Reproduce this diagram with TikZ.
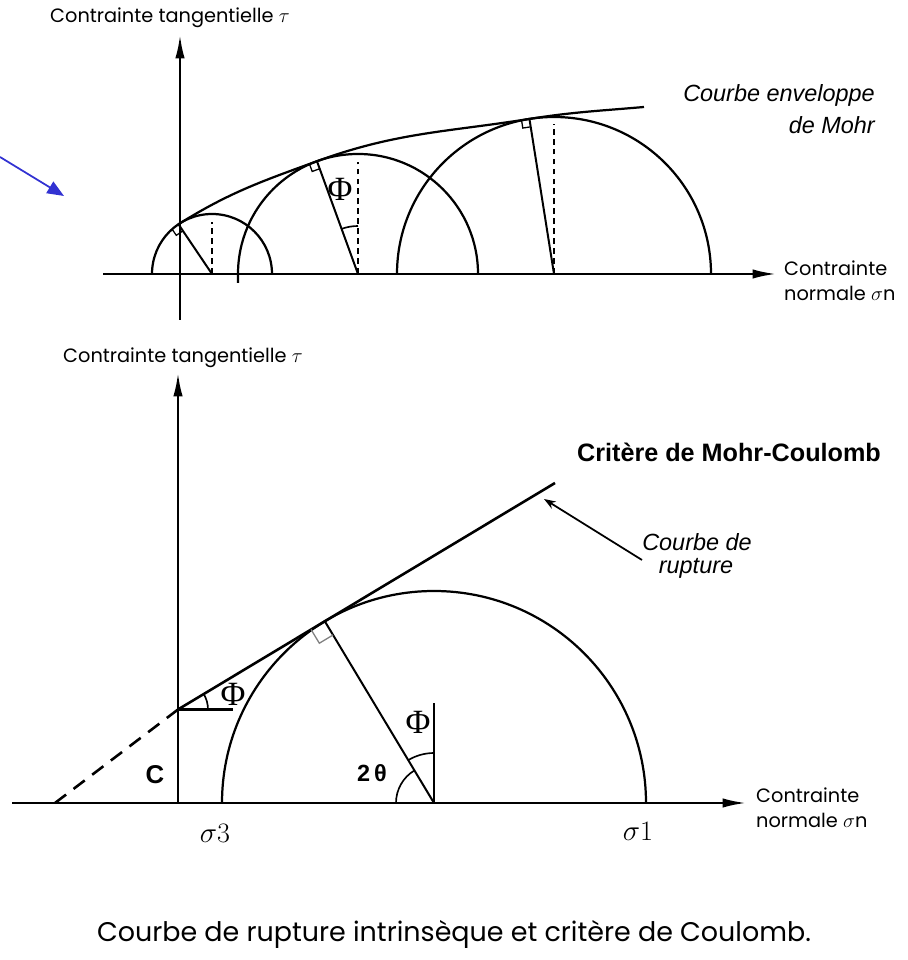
\documentclass[tikz,border=0pt]{standalone}
\usepackage{fontspec}
\newfontfamily\geo{Poppins}
\newfontfamily\hel{Liberation Sans}
\newfontfamily\ser{Liberation Serif}
\usetikzlibrary{arrows.meta,calc}
\definecolor{bluearrow}{RGB}{50,50,210}
\begin{document}
\begin{tikzpicture}[x=0.03cm,y=0.03cm,
  ax/.style={line width=1.9pt,-{Latex[length=7mm,width=2.8mm]}},
  curve/.style={line width=1.9pt},
  thickline/.style={line width=2.2pt},
  rad/.style={line width=1.7pt},
  dotv/.style={line width=2.3pt,dash pattern=on 5pt off 3.5pt},
  ra/.style={line width=1.1pt},
  anglearc/.style={line width=1.4pt},
  lab/.style={font=\geo\fontsize{16.5}{19}\selectfont,inner sep=0pt},
  ital/.style={font=\hel\itshape\fontsize{20}{24}\selectfont,inner sep=0pt},
  boldt/.style={font=\hel\bfseries\fontsize{21.5}{26}\selectfont,inner sep=0pt},
  phil/.style={font=\ser\fontsize{29}{32}\selectfont,inner sep=0pt},
  sig/.style={font=\fontsize{24}{28}\selectfont,inner sep=0pt},
  captxt/.style={font=\geo\fontsize{23}{27}\selectfont,inner sep=0pt}
]
\useasboundingbox (0,0) rectangle (908,960);

% ===== top diagram =====
\coordinate (o1) at (103,686);
\coordinate (x1) at (776,686);
\coordinate (yb1) at (180,640);
\coordinate (yt1) at (180,925);
\draw[ax] (o1) -- (x1);
\draw[ax] (yb1) -- (yt1);
\node[lab,anchor=west] (ylab1) at (50,942) {Contrainte tangentielle $\tau$};
\node[lab,anchor=west] (xlab1a) at (784,692) {Contrainte};
\node[lab,anchor=west] (xlab1b) at (784,667) {normale $\sigma$n};

\coordinate (c1) at (212,686);
\coordinate (c2) at (358,686);
\coordinate (c3) at (554,686);
\draw[curve] ($(c1)+(60,0)$) arc[start angle=0,end angle=180,radius=60];
\draw[curve] ($(c2)+(120,0)$) arc[start angle=0,end angle=180,radius=120] -- ++(0,-9);
\draw[curve] ($(c3)+(157,0)$) arc[start angle=0,end angle=180,radius=157];

\coordinate (t1) at ($(c1)+(124:60)$);
\coordinate (t2) at ($(c2)+(110:120)$);
\coordinate (t3) at ($(c3)+(99:157)$);
\coordinate (e1) at (644,853);
\draw[curve] (t1) to[out=32,in=200] (t2) to[out=20,in=189] (t3) to[out=9,in=185] (e1);

\draw[rad] (t1) -- (c1);
\draw[rad] (t2) -- (c2);
\draw[rad] (t3) -- (c3);
\draw[dotv] (c1) -- ++(0,52);
\draw[dotv] (c2) -- ++(0,112);
\draw[dotv] (c3) -- ++(0,150);

\draw[ra] ($(t1)+(-56:8)$) -- ++(214:8) -- ++(124:8);
\draw[ra] ($(t2)+(-70:8)$) -- ++(200:8) -- ++(110:8);
\draw[ra] ($(t3)+(-81:8)$) -- ++(189:8) -- ++(99:8);
\draw[anglearc] ($(c2)+(90:48)$) arc[start angle=90,end angle=110,radius=48];
\node[phil] (phitop) at (340,771) {Φ};

\node[ital,anchor=east] (env1) at (875,865) {Courbe enveloppe};
\node[ital,anchor=east] (env2) at (875,835) {de Mohr};

\coordinate (bs) at (0,803);
\coordinate (be) at (64,764);
\draw[bluearrow,line width=1.5pt,-{Triangle[length=5mm,width=4mm]}] (bs) -- (be);

% ===== bottom diagram =====
\coordinate (o2) at (12,157);
\coordinate (x2) at (746,157);
\coordinate (yb2) at (178,157);
\coordinate (yt2) at (178,587);
\draw[ax] (o2) -- (x2);
\draw[ax] (yb2) -- (yt2);
\node[lab,anchor=west] (ylab2) at (63,602) {Contrainte tangentielle $\tau$};
\node[lab,anchor=west] (xlab2a) at (756,165) {Contrainte};
\node[lab,anchor=west] (xlab2b) at (756,140) {normale $\sigma$n};

\coordinate (c) at (434,157);
\draw[curve] ($(c)+(212,0)$) arc[start angle=0,end angle=180,radius=212];
\coordinate (T) at ($(c)+(121:212)$);
\coordinate (A) at (178,250.5);
\coordinate (E) at (555,477);
\coordinate (D) at (55,157);
\draw[thickline] (A) -- (E);
\draw[thickline,dash pattern=on 12pt off 8pt] (A) -- (D);
\draw[thickline] (A) -- ++(55,0);
\draw[anglearc] ($(A)+(30,0)$) arc[start angle=0,end angle=31,radius=30];
\node[phil] (phiA) at (233,266) {Φ};
\node[font=\hel\bfseries\fontsize{22}{24}\selectfont,inner sep=0pt] (cC) at (155,185) {C};

\draw[rad] (T) -- (c);
\draw[ra,gray] ($(T)+(-59:16)$) -- ++(211:16) -- ++(121:16);
\draw[rad] (c) -- ++(0,100);
\draw[anglearc] ($(c)+(180:38)$) arc[start angle=180,end angle=121,radius=38];
\draw[anglearc] ($(c)+(90:50)$) arc[start angle=90,end angle=121,radius=50];
\node[phil] (phiC) at (418,238) {Φ};
\node[font=\hel\bfseries\fontsize{20}{22}\selectfont,inner sep=0pt] (theta) at (372,187) {2\,θ};

\node[sig] (s3) at (215,127) {$\sigma$3};
\node[sig] (s1) at (638,129) {$\sigma$1};

\node[boldt] (crit) at (729,508) {Critère de Mohr-Coulomb};
\node[ital] (rup1) at (697,418) {Courbe de};
\node[ital] (rup2) at (696,392) {rupture};
\coordinate (rs) at (642,400);
\coordinate (re) at (544,461);
\draw[line width=1.5pt,-{Stealth[length=3.5mm,width=2.5mm]}] (rs) -- (re);

\node[captxt,anchor=base] (caption) at (454,18) {Courbe de rupture intrinsèque et critère de Coulomb.};
\end{tikzpicture}
\end{document}
